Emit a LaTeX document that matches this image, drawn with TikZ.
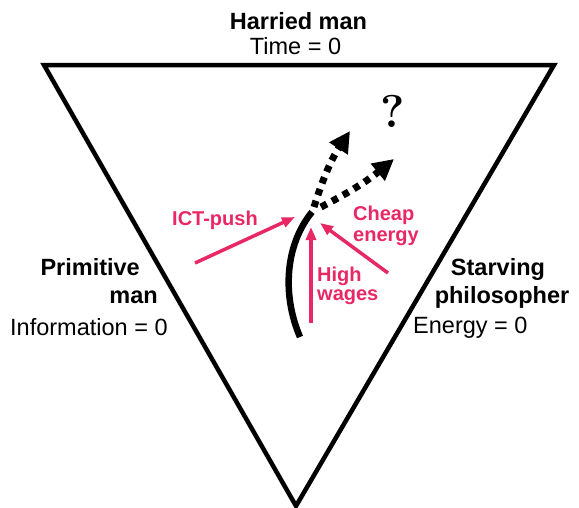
\documentclass[tikz,border=0pt]{standalone}
\usepackage{fontspec}
\setsansfont{Liberation Sans}
\usetikzlibrary{arrows.meta}
\definecolor{pushpink}{RGB}{232,40,100}

\tikzset{
  corner/.style={font=\sffamily\bfseries\fontsize{23.5}{28}\selectfont, inner sep=0pt},
  zeroline/.style={font=\sffamily\fontsize{23.5}{28}\selectfont, inner sep=0pt},
  force/.style={font=\sffamily\bfseries\fontsize{20}{22}\selectfont, text=pushpink, inner sep=0pt},
  forcearrow/.style={pushpink, line width=3.5pt, -{Triangle[length=13pt,width=10pt]}},
  future/.style={line width=7pt, dash pattern=on 6.5pt off 6pt, -{Triangle[length=21pt,width=21pt]}}
}

\begin{document}
\begin{tikzpicture}[x=1pt,y=-1pt]
\useasboundingbox (0,0) rectangle (579,507);

%---------------------------------------
% Triangle of constraints
%---------------------------------------
\coordinate (timecorner) at (44,65);
\coordinate (energycorner) at (554,65);
\coordinate (infocorner) at (296,506);

\draw[line width=4.5pt, line join=miter] (timecorner) -- (energycorner) -- (infocorner) -- cycle;

% Corner labels
\node[corner, anchor=base] (harried) at (298.5,29) {Harried man};
\node[zeroline, anchor=base] (time) at (295.5,54) {Time = 0};

\node[corner, anchor=base east] (primitive) at (140,275) {Primitive};
\node[corner, anchor=base east] (primitiveman) at (158,303) {man};
\node[zeroline, anchor=base west] (information) at (10,335) {Information = 0};

\node[corner, anchor=base] (starving) at (498,275) {Starving};
\node[corner, anchor=base] (philosopher) at (502,303) {philosopher};
\node[zeroline, anchor=base west] (energy) at (413,333) {Energy = 0};

%---------------------------------------
% Development path and possible futures
%---------------------------------------
\coordinate (pathstart) at (300,337);
\coordinate (pathend) at (312,212);
\coordinate (forkA) at (314,207);
\coordinate (forkB) at (321,207);
\coordinate (futureA) at (350,131);
\coordinate (futureB) at (394,159);

\draw[line width=6.5pt] (pathstart) .. controls (282,295) and (285,245) .. (pathend);
\draw[future] (forkA) to[bend left=8] (futureA);
\draw[future] (forkB) to[bend right=6] (futureB);

\node[font=\bfseries\fontsize{46}{46}\selectfont, inner sep=0pt, anchor=base] (unknown) at (393,127) {?};

%---------------------------------------
% Driving forces
%---------------------------------------
\coordinate (ictfrom) at (195,263);
\coordinate (ictto) at (295,217);
\coordinate (wagefrom) at (311,323);
\coordinate (wageto) at (311,227);
\coordinate (cheapfrom) at (388,273);
\coordinate (cheapto) at (320,223);

\draw[forcearrow] (ictfrom) -- (ictto);
\draw[forcearrow] (wagefrom) -- (wageto);
\draw[forcearrow] (cheapfrom) -- (cheapto);

\node[force, anchor=base west] (ict) at (172,225) {ICT-push};
\node[force, anchor=base west] (high) at (317,281) {High};
\node[force, anchor=base west] (wages) at (317,300) {wages};
\node[force, anchor=base west] (cheap) at (353,220) {Cheap};
\node[force, anchor=base west] (cheapenergy) at (353,241) {energy};

\end{tikzpicture}
\end{document}
